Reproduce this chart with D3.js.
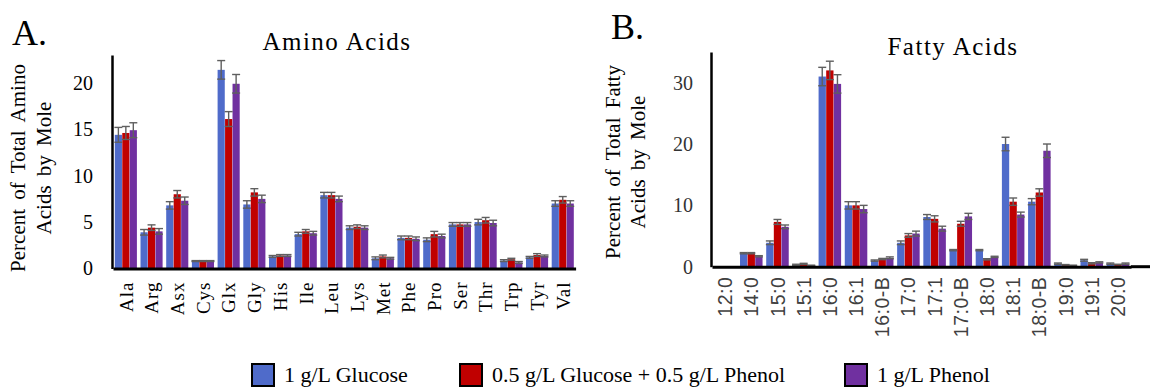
<!DOCTYPE html>
<html>
<head>
<meta charset="utf-8">
<script src="https://cdn.jsdelivr.net/npm/d3@7"></script>
<style>
  body { margin: 0; background: #fff; }
  svg { display: block; }
</style>
</head>
<body>
<svg id="chart" width="1150" height="388"></svg>
<script>
// series
const seriesNames = ['1 g/L Glucose', '0.5 g/L Glucose + 0.5 g/L Phenol', '1 g/L Phenol'];
const seriesColors = ['#4f6bca', '#c00000', '#7030a0'];

// A. amino acids (% of total by mole)
const aminoCats = ['Ala', 'Arg', 'Asx', 'Cys', 'Glx', 'Gly', 'His', 'Ile', 'Leu', 'Lys', 'Met', 'Phe', 'Pro', 'Ser', 'Thr', 'Trp', 'Tyr', 'Val'];
const aminoGlucose = [14.4, 3.9, 6.8, 0.8, 21.4, 6.9, 1.3, 3.7, 7.9, 4.4, 1.1, 3.3, 3.1, 4.75, 5.0, 0.85, 1.2, 7.0];
const aminoMix     = [14.6, 4.4, 8.0, 0.8, 16.1, 8.2, 1.4, 4.0, 7.9, 4.5, 1.3, 3.3, 3.7, 4.75, 5.2, 1.0, 1.45, 7.4];
const aminoPhenol  = [14.9, 4.0, 7.3, 0.8, 19.9, 7.5, 1.4, 3.8, 7.5, 4.4, 1.1, 3.2, 3.5, 4.75, 4.9, 0.65, 1.35, 7.0];
const aminoErrGlucose = [0.8, 0.3, 0.4, 0.05, 1.0, 0.4, 0.1, 0.2, 0.3, 0.2, 0.15, 0.2, 0.2, 0.2, 0.3, 0.1, 0.1, 0.3];
const aminoErrMix     = [0.7, 0.3, 0.4, 0.05, 0.8, 0.4, 0.1, 0.2, 0.3, 0.2, 0.15, 0.2, 0.3, 0.2, 0.3, 0.1, 0.15, 0.35];
const aminoErrPhenol  = [0.8, 0.3, 0.4, 0.05, 1.0, 0.4, 0.1, 0.2, 0.3, 0.2, 0.1, 0.2, 0.2, 0.2, 0.3, 0.1, 0.1, 0.3];
const aminoTicks = [0, 5, 10, 15, 20];

// B. fatty acids (% of total by mole)
const fattyCats = ['12:0', '14:0', '15:0', '15:1', '16:0', '16:1', '16:0-B', '17:0', '17:1', '17:0-B', '18:0', '18:1', '18:0-B', '19:0', '19:1', '20:0'];
const fattyGlucose = [0, 2.2, 3.9, 0.3, 31.0, 10.0, 1.0, 3.9, 8.1, 2.7, 2.7, 20.0, 10.6, 0.5, 1.05, 0.5];
const fattyMix     = [0, 2.2, 7.3, 0.45, 32.0, 10.0, 1.25, 5.1, 7.8, 7.0, 1.2, 10.6, 12.1, 0.3, 0.55, 0.35];
const fattyPhenol  = [0, 1.7, 6.5, 0.2, 29.8, 9.4, 1.45, 5.4, 6.2, 8.2, 1.6, 8.5, 18.9, 0.2, 0.7, 0.5];
const fattyErrGlucose = [0, 0.1, 0.3, 0.1, 1.5, 0.6, 0.1, 0.3, 0.4, 0.1, 0.1, 1.1, 0.5, 0.1, 0.15, 0.1];
const fattyErrMix     = [0, 0.1, 0.4, 0.1, 1.5, 0.6, 0.1, 0.3, 0.5, 0.4, 0.1, 0.6, 0.6, 0.05, 0.1, 0.05];
const fattyErrPhenol  = [0, 0.1, 0.3, 0.05, 1.5, 0.6, 0.15, 0.4, 0.4, 0.5, 0.1, 0.4, 1.1, 0.05, 0.1, 0.1];
const fattyTicks = [0, 10, 20, 30];

const serif = "Liberation Serif, Times New Roman, serif";
const sans = "Liberation Sans, Arial, sans-serif";

const svg = d3.select('#chart');

function drawPanel(opt) {
  const g = svg.append('g');
  const rows = opt.cats.map((c, i) => ({
    cat: c,
    vals: opt.values.map((v, s) => ({ s: s, v: v[i], e: opt.errors[s][i] }))
  }));

  const x = d3.scaleBand().domain(opt.cats).range(opt.xRange);
  const xs = d3.scaleBand().domain([0, 1, 2])
    .range([x.bandwidth() * 0.07, x.bandwidth() * 0.93]).paddingInner(0.04);
  const y = d3.scaleLinear().domain([0, opt.yMax]).range(opt.yRange);

  // bars
  const groups = g.selectAll('g.grp').data(rows).enter().append('g')
    .attr('class', 'grp')
    .attr('transform', d => `translate(${x(d.cat)},0)`);

  groups.selectAll('rect').data(d => d.vals).enter().append('rect')
    .attr('x', d => xs(d.s))
    .attr('width', xs.bandwidth())
    .attr('y', d => y(d.v))
    .attr('height', d => y(0) - y(d.v))
    .attr('fill', d => seriesColors[d.s]);

  // error bars
  const errs = groups.selectAll('g.err').data(d => d.vals.filter(v => v.v > 0)).enter().append('g')
    .attr('class', 'err')
    .attr('stroke', '#5f5f5f')
    .attr('stroke-width', 1.4);
  const cap = 4;
  const cx = d => xs(d.s) + xs.bandwidth() / 2;
  errs.append('line')
    .attr('x1', cx).attr('x2', cx)
    .attr('y1', d => y(d.v + d.e)).attr('y2', d => y(Math.max(0, d.v - d.e)));
  errs.append('line')
    .attr('x1', d => cx(d) - cap).attr('x2', d => cx(d) + cap)
    .attr('y1', d => y(d.v + d.e)).attr('y2', d => y(d.v + d.e));
  errs.append('line')
    .attr('x1', d => cx(d) - cap).attr('x2', d => cx(d) + cap)
    .attr('y1', d => y(Math.max(0, d.v - d.e))).attr('y2', d => y(Math.max(0, d.v - d.e)));

  // y axis
  const yAxis = g.append('g')
    .attr('transform', `translate(${opt.xRange[0] - 1},0)`)
    .call(d3.axisLeft(y).tickValues(opt.ticks).tickSize(0).tickPadding(opt.tickPad).tickFormat(d3.format('d')));
  yAxis.attr('font-family', serif).attr('font-size', 20);
  yAxis.select('.domain').attr('stroke', '#000').attr('stroke-width', 2.5);
  yAxis.selectAll('text').attr('fill', opt.tickColor);

  // x axis
  const xAxis = g.append('g')
    .attr('transform', `translate(0,${y(0)})`)
    .call(d3.axisBottom(x).tickSize(0).tickSizeOuter(0));
  xAxis.attr('font-family', opt.labelFont).attr('font-size', opt.labelSize);
  xAxis.select('.domain').attr('stroke', '#000').attr('stroke-width', 3);
  if (opt.axisEnd) {
    xAxis.append('line')
      .attr('x1', opt.xRange[1]).attr('x2', opt.axisEnd)
      .attr('stroke', '#000').attr('stroke-width', 3);
  }
  xAxis.selectAll('.tick text')
    .attr('transform', 'rotate(-90)')
    .attr('x', -opt.labelGap).attr('y', 0).attr('dy', '0.36em')
    .attr('text-anchor', 'end')
    .attr('letter-spacing', opt.labelSpacing)
    .attr('fill', opt.labelColor);

  // panel letter + title
  svg.append('text').attr('x', opt.letterX).attr('y', opt.letterY)
    .attr('font-family', serif).attr('font-size', 36).text(opt.letter);
  svg.append('text').attr('x', opt.titleX).attr('y', opt.titleY)
    .attr('text-anchor', 'middle').attr('font-family', serif).attr('font-size', 25)
    .attr('letter-spacing', 1.5).text(opt.title);

  // y title
  opt.yTitle.forEach((line, i) => {
    svg.append('text')
      .attr('transform', `translate(${opt.yTitleX[i]},${opt.yTitleY}) rotate(-90)`)
      .attr('text-anchor', 'middle')
      .attr('font-family', serif).attr('font-size', 21)
      .attr('word-spacing', 4)
      .text(line);
  });
}

drawPanel({
  cats: aminoCats,
  values: [aminoGlucose, aminoMix, aminoPhenol],
  errors: [aminoErrGlucose, aminoErrMix, aminoErrPhenol],
  ticks: aminoTicks,
  yMax: 23, yRange: [268.5, 55], xRange: [113, 575.6],
  tickPad: 19, tickColor: '#000',
  labelFont: serif, labelSize: 19, labelSpacing: 1, labelGap: 13, labelColor: '#000',
  letter: 'A.', letterX: 12, letterY: 45,
  title: 'Amino Acids', titleX: 337, titleY: 50,
  yTitle: ['Percent of Total Amino', 'Acids by Mole'], yTitleX: [25, 51], yTitleY: 168
});

drawPanel({
  cats: fattyCats,
  values: [fattyGlucose, fattyMix, fattyPhenol],
  errors: [fattyErrGlucose, fattyErrMix, fattyErrPhenol],
  ticks: fattyTicks,
  yMax: 35, yRange: [266.7, 52], xRange: [712, 1131], axisEnd: 1150,
  tickPad: 18, tickColor: '#333',
  labelFont: sans, labelSize: 19.5, labelSpacing: 0.5, labelGap: 10, labelColor: '#404040',
  letter: 'B.', letterX: 611, letterY: 39,
  title: 'Fatty Acids', titleX: 953, titleY: 55,
  yTitle: ['Percent of Total Fatty', 'Acids by Mole'], yTitleX: [620, 645], yTitleY: 162
});

// legend
const legendX = [251, 459, 844];
const legend = svg.append('g').selectAll('g').data(seriesNames).enter().append('g')
  .attr('transform', (d, i) => `translate(${legendX[i]},363)`);
legend.append('rect')
  .attr('x', 1).attr('y', 1)
  .attr('width', 22).attr('height', 22)
  .attr('fill', (d, i) => seriesColors[i])
  .attr('stroke', '#000').attr('stroke-width', 2);
legend.append('text')
  .attr('x', 33).attr('y', 19)
  .attr('font-family', serif).attr('font-size', 22)
  .text(d => d);
</script>
</body>
</html>
